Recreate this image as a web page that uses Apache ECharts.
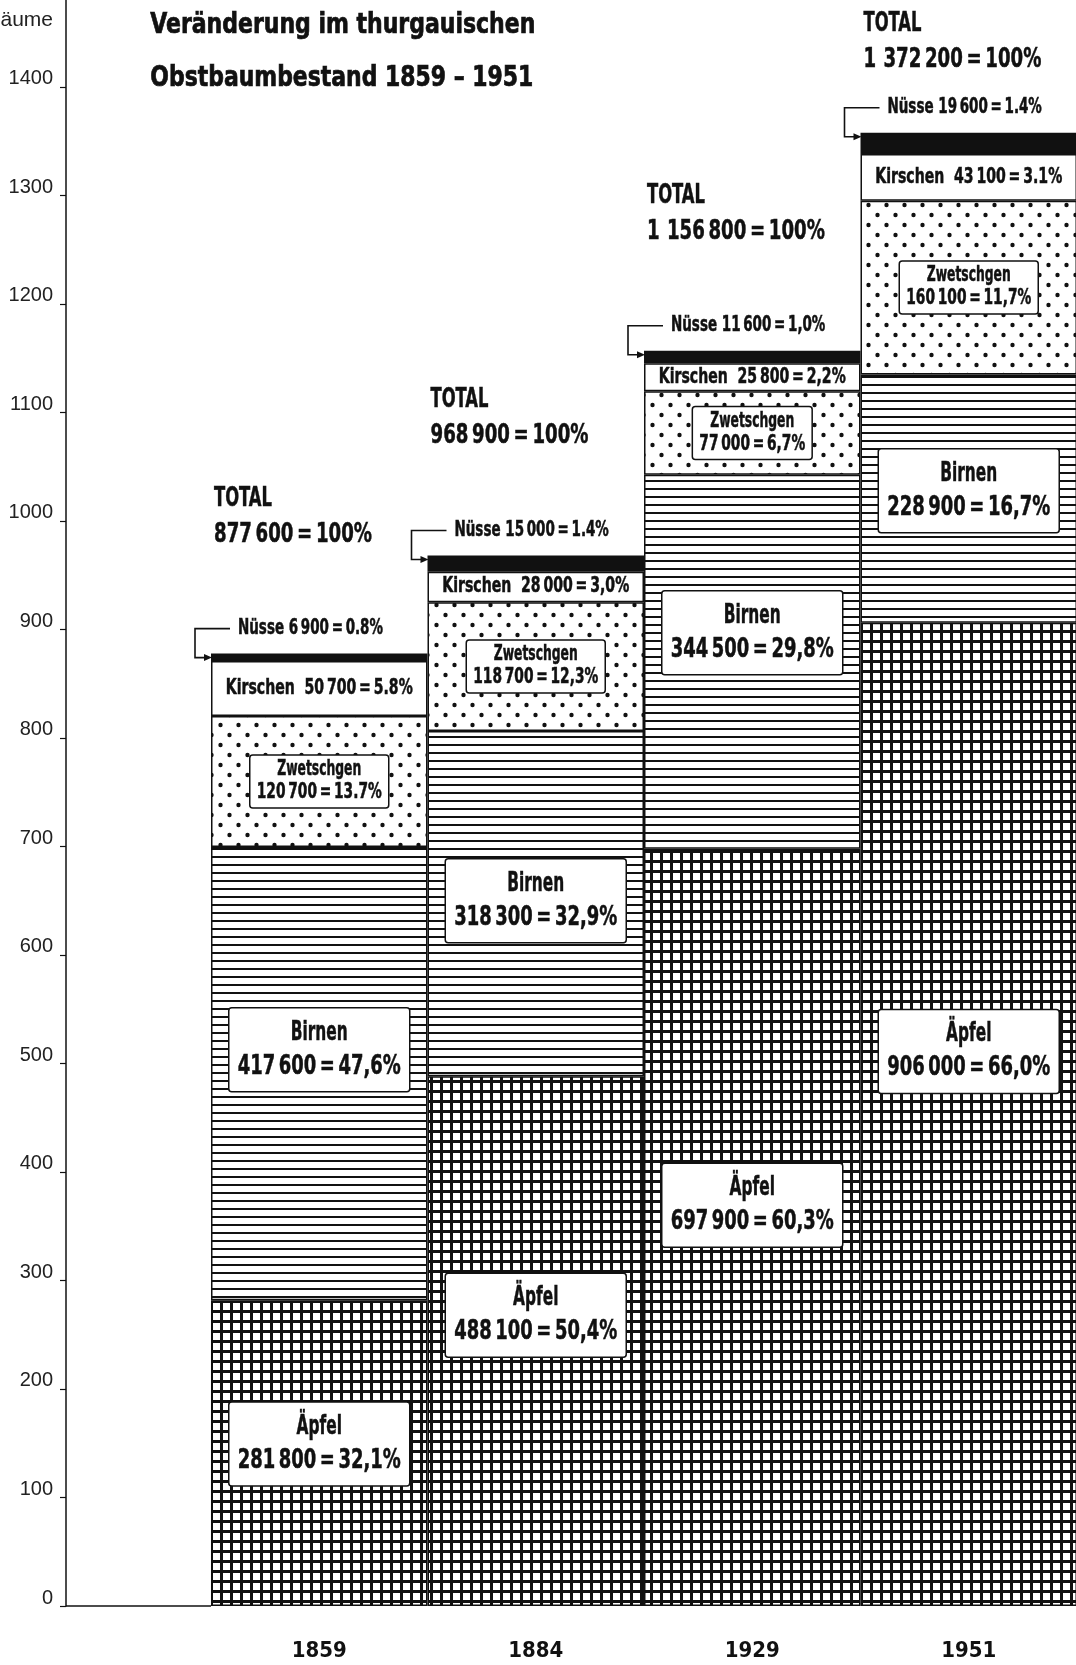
<!DOCTYPE html>
<html><head><meta charset="utf-8">
<script src="https://cdn.jsdelivr.net/npm/echarts@6/dist/echarts.min.js"></script>
<style>html,body{margin:0;padding:0;background:#fff}#c{width:1076px;height:1665px}</style>
</head><body><div id="c"></div>
<script>
// ---- data (thousands of trees) ----
const years = ['1859', '1884', '1929', '1951'];
const aepfel = [281.8, 488.1, 697.9, 906.0];
const birnen = [417.6, 318.3, 344.5, 228.9];
const zwetschgen = [120.7, 118.7, 77.0, 160.1];
const kirschen = [50.7, 28.0, 25.8, 43.1];
const nuesse = [6.9, 15.0, 11.6, 19.6];
const totals = [877.6, 968.9, 1156.8, 1372.2];
const pctAepfel = ['32,1', '50,4', '60,3', '66,0'];
const pctBirnen = ['47,6', '32,9', '29,8', '16,7'];
const pctZwetschgen = ['13.7', '12,3', '6,7', '11,7'];
const pctKirschen = ['5.8', '3,0', '2,2', '3.1'];
const pctNuesse = ['0.8', '1.4', '1,0', '1.4'];
const yTicks = [0, 100, 200, 300, 400, 500, 600, 700, 800, 900, 1000, 1100, 1200, 1300, 1400];
const titleLines = ['Veränderung im thurgauischen', 'Obstbaumbestand 1859 – 1951'];

// label placement style (pixels the box sits above the segment centre)
const LIFT_AEPFEL = [9, 26, 22, 63];
const LIFT_BIRNEN = [24, 3, 29, 8];

// ---- fonts ----
function hasFont(name) {
  const c = document.createElement('canvas').getContext('2d');
  const s = 'abcdefghijklmnopqrstuvwxyz0123456789ABCDEFGH';
  let r = false;
  ['monospace', 'serif'].forEach(fb => {
    c.font = 'bold 40px ' + fb; const w0 = c.measureText(s).width;
    c.font = 'bold 40px "' + name + '", ' + fb; const w1 = c.measureText(s).width;
    if (Math.abs(w0 - w1) > 0.5) r = true;
  });
  return r;
}
let NARROW = '"Liberation Sans"';
if (hasFont('Liberation Sans Narrow')) NARROW = '"Liberation Sans Narrow"';
else if (hasFont('DejaVu Sans Condensed')) NARROW = '"DejaVu Sans Condensed"';
const INK = '#111';
const F = size => 'bold ' + size + 'px ' + NARROW;
const mctx = document.createElement('canvas').getContext('2d');
function mw(text, font) { mctx.font = font; return mctx.measureText(text).width; }

const TS = '\u2009';
function fmt(v) { return String(Math.round(v * 1000)).replace(/\B(?=(\d{3})+(?!\d))/g, TS); }
const numLine = (v, p) => fmt(v) + TS + '=' + TS + p + '%';

// text roles: font + horizontal compression measured against the reference widths
const fBig = F(27), fSmall = F(20.5), fTot = F(27), fTitle = F(28);
const sBigName = 57 / mw('Birnen', fBig);
const sBigNum = 163 / mw(numLine(417.6, '47,6'), fBig);
const sSmallName = 84 / mw('Zwetschgen', fSmall);
const sSmallNum = 125 / mw(numLine(120.7, '13.7'), fSmall);
const kirLine = i => 'Kirschen  ' + numLine(kirschen[i], pctKirschen[i]);
const nusLine = i => 'Nüsse ' + numLine(nuesse[i], pctNuesse[i]);
const totLine = i => (totals[i] >= 1000 ? fmt(totals[i]).replace(/^(\d)/, '$1' + TS) : fmt(totals[i])) + TS + '=' + TS + '100%';
const sKir = 187 / mw(kirLine(0), fSmall);
const sNus = 145 / mw(nusLine(0), fSmall);
const sTotWord = 58 / mw('TOTAL', fTot);
const sTotNum = 158 / mw(totLine(0), fTot);
const sTitle1 = 385 / mw(titleLines[0], fTitle);
const sTitle2 = 383 / mw(titleLines[1], fTitle);

function txtStyle(text, font, align, bold) {
  return { text: text, font: font, fill: INK, align: align, verticalAlign: 'middle',
    stroke: INK, lineWidth: bold || 0.5 };
}

// ---- patterns ----
function pattern(w, h, draw) {
  const cv = document.createElement('canvas'); cv.width = w; cv.height = h;
  const g = cv.getContext('2d'); g.fillStyle = '#fff'; g.fillRect(0, 0, w, h);
  g.fillStyle = INK; draw(g);
  return { image: cv, repeat: 'repeat' };
}
const patGrid = pattern(10, 10, g => { g.fillRect(0, 0, 10, 3); g.fillRect(0, 0, 3, 10); });
const patLines = pattern(10, 8, g => { g.fillRect(0, 0, 10, 2); });
const patDots = pattern(18, 20, g => {
  g.beginPath(); g.arc(4.5, 5, 2.2, 0, Math.PI * 2); g.fill();
  g.beginPath(); g.arc(13.5, 15, 2.2, 0, Math.PI * 2); g.fill();
});

const AXIS_OFFSET = 145;
const stackTop = years.map((y, i) => aepfel[i] + birnen[i] + zwetschgen[i] + kirschen[i] + nuesse[i]);

// boxed multi-line label built from text elements, each line with its own compression
function labelBox(cx, cy, lines, lineH, padX, padY, boxed) {
  const els = [];
  const n = lines.length;
  let maxW = 0;
  lines.forEach(l => { maxW = Math.max(maxW, mw(l.text, l.font) * l.s); });
  if (boxed) {
    const bw = maxW + 2 * padX, bh = n * lineH + 2 * padY;
    els.push({ type: 'rect', shape: { x: cx - bw / 2, y: cy - bh / 2, width: bw, height: bh, r: 3 },
      style: { fill: '#fff', stroke: INK, lineWidth: 1.5 } });
  }
  lines.forEach((l, k) => {
    els.push({ type: 'text', x: cx, y: cy - (n - 1) / 2 * lineH + k * lineH, scaleX: l.s, scaleY: 1,
      style: txtStyle(l.text, l.font, 'center') });
  });
  return els;
}

const barBase = {
  type: 'bar', stack: 'total', barCategoryGap: '0%', silent: true, label: { show: false }
};
const itemS = color => ({ color: color, borderColor: INK, borderWidth: 1.5 });

const chart = echarts.init(document.getElementById('c'), null, { renderer: 'canvas' });
const option = {
  animation: false,
  backgroundColor: '#fff',
  graphic: [
    { type: 'text', left: 150, top: 11, scaleX: sTitle1, originX: 0,
      style: { text: titleLines[0], font: fTitle, fill: INK, stroke: INK, lineWidth: 0.7 } },
    { type: 'text', left: 150, top: 64, scaleX: sTitle2, originX: 0,
      style: { text: titleLines[1], font: fTitle, fill: INK, stroke: INK, lineWidth: 0.7 } }
  ],
  grid: { left: 211, right: -1, top: 0, bottom: 59, containLabel: false, outerBoundsMode: 'none' },
  xAxis: {
    type: 'category', data: years,
    axisLine: { show: false }, axisTick: { show: false },
    axisLabel: { margin: 34, fontFamily: NARROW, fontWeight: 'bold', fontSize: 22, lineHeight: 22, color: INK }
  },
  yAxis: {
    type: 'value', min: 0, max: 1480, offset: AXIS_OFFSET,
    name: 'Bäume', nameLocation: 'end', nameGap: -20,
    nameTextStyle: { fontFamily: 'Liberation Sans', fontSize: 21, color: '#222', align: 'right', verticalAlign: 'middle', padding: [0, 13, 0, 0] },
    axisLine: { show: true, lineStyle: { color: INK, width: 1.5 } },
    axisTick: { show: true, length: 6, customValues: yTicks, lineStyle: { color: INK, width: 1.2 } },
    axisLabel: { customValues: yTicks, formatter: v => String(v), margin: 13, fontFamily: 'Liberation Sans', fontSize: 20, color: '#222', verticalAlign: 'bottom', lineHeight: 16 },
    splitLine: { show: false }
  },
  series: [
    Object.assign({}, barBase, { name: 'Äpfel', data: aepfel, itemStyle: itemS(patGrid) }),
    Object.assign({}, barBase, { name: 'Birnen', data: birnen, itemStyle: itemS(patLines) }),
    Object.assign({}, barBase, { name: 'Zwetschgen', data: zwetschgen, itemStyle: itemS(patDots) }),
    Object.assign({}, barBase, { name: 'Kirschen', data: kirschen, itemStyle: itemS('#fff') }),
    Object.assign({}, barBase, { name: 'Nüsse', data: nuesse, itemStyle: itemS(INK) }),
    {
      type: 'custom', name: 'labels', clip: false, silent: true, z: 10,
      data: years.map((y, i) => [i, stackTop[i]]),
      renderItem: function (params, api) {
        const i = api.value(0);
        const p = api.coord([i, api.value(1)]);
        const w = api.size([1, 0])[0];
        const cx = p[0];
        const left = cx - w / 2;
        const yAt = v => api.coord([i, v])[1];
        const a = aepfel[i], b = birnen[i], z = zwetschgen[i], k = kirschen[i];
        let els = [];
        // segment labels
        els = els.concat(labelBox(cx, yAt(a / 2) - LIFT_AEPFEL[i], [
          { text: 'Äpfel', font: fBig, s: sBigName },
          { text: numLine(a, pctAepfel[i]), font: fBig, s: sBigNum }], 34, 9, 8, true));
        els = els.concat(labelBox(cx, yAt(a + b / 2) - LIFT_BIRNEN[i], [
          { text: 'Birnen', font: fBig, s: sBigName },
          { text: numLine(b, pctBirnen[i]), font: fBig, s: sBigNum }], 34, 9, 8, true));
        els = els.concat(labelBox(cx, yAt(a + b + z / 2), [
          { text: 'Zwetschgen', font: fSmall, s: sSmallName },
          { text: numLine(z, pctZwetschgen[i]), font: fSmall, s: sSmallNum }], 23, 7, 3.5, true));
        els = els.concat(labelBox(cx, yAt(a + b + z + k / 2), [
          { text: kirLine(i), font: fSmall, s: sKir }], 23, 0, 0, false));
        // Nüsse pointer
        const ly = p[1] - 25;
        const ay = p[1] + 4;
        els.push({ type: 'polyline', shape: { points: [[left + 19, ly], [left - 16, ly], [left - 16, ay], [left - 5, ay]] }, style: { stroke: INK, lineWidth: 1.6, fill: null } });
        els.push({ type: 'polygon', shape: { points: [[left - 7, ay - 3.5], [left + 1, ay], [left - 7, ay + 3.5]] }, style: { fill: INK } });
        els.push({ type: 'text', x: left + 27, y: ly, scaleX: sNus, style: txtStyle(nusLine(i), fSmall, 'left') });
        // totals
        const tY = Math.max(p[1] - 155, 24);
        els.push({ type: 'text', x: left + 3, y: tY, scaleX: sTotWord, style: txtStyle('TOTAL', fTot, 'left') });
        els.push({ type: 'text', x: left + 3, y: tY + 36, scaleX: sTotNum, style: txtStyle(totLine(i), fTot, 'left') });
        if (i === 0) {
          const y0 = yAt(0);
          els.push({ type: 'line', shape: { x1: left - AXIS_OFFSET, y1: y0, x2: left, y2: y0 }, style: { stroke: INK, lineWidth: 1.5 } });
        }
        return { type: 'group', children: els };
      }
    }
  ]
};
chart.setOption(option);
</script>
</body></html>
